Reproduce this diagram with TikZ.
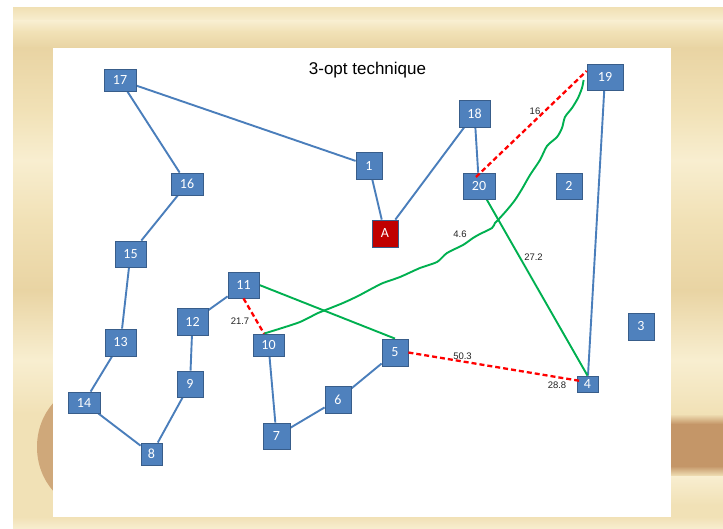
\documentclass[tikz,border=0pt]{standalone}
\usepackage{fontspec}
\setmainfont{Liberation Sans}
\newfontfamily\boxfont{Carlito}
\usetikzlibrary{calc}

\definecolor{boxblue}{RGB}{79,129,189}
\definecolor{boxedge}{RGB}{56,93,138}
\definecolor{edgeblue}{RGB}{74,126,187}
\definecolor{tourgreen}{RGB}{0,176,80}
\definecolor{cutred}{RGB}{255,0,0}
\definecolor{depot}{RGB}{192,0,0}
\definecolor{woodbase}{RGB}{241,225,182}
\definecolor{woodlight}{RGB}{248,238,208}
\definecolor{wooddark}{RGB}{233,212,163}
\definecolor{knot}{RGB}{207,168,122}
\definecolor{knotdark}{RGB}{196,150,104}
\definecolor{labelgray}{RGB}{35,35,35}

\pgfdeclarelayer{frame}
\pgfdeclarelayer{roads}
\pgfsetlayers{frame,roads,main}

\begin{document}
\begin{tikzpicture}[x=1pt,y=-1pt,
  city/.style={draw=boxedge, line width=0.8pt, fill=boxblue, text=white,
    font=\boxfont\fontsize{14}{14}\selectfont, inner sep=0pt},
  box/.style 2 args={city, minimum width=#1, minimum height=#2},
  road/.style={draw=edgeblue, line width=1.9pt},
  newroad/.style={draw=tourgreen, line width=1.9pt, line join=round},
  cutroad/.style={draw=cutred, line width=2.3pt, dash pattern=on 5pt off 3pt},
  dist/.style={font=\fontsize{9.5}{10}\selectfont, text=labelgray, inner sep=0pt}
]
\useasboundingbox (0,0) rectangle (723,529);

% ---------- wooden frame ----------
\begin{pgfonlayer}{frame}
\fill[white] (0,0) rectangle (723,529);
\fill[woodbase] (13,8) rectangle (723,529);
\shade[top color=woodbase, bottom color=woodlight] (13,8) rectangle (723,21);
\shade[top color=woodlight, bottom color=woodbase] (13,21) rectangle (723,32);
\shade[top color=woodbase, bottom color=wooddark] (13,32) rectangle (723,48);
\shade[top color=wooddark, bottom color=woodbase] (13,48) rectangle (723,110);
\shade[top color=woodbase, bottom color=woodlight] (13,110) rectangle (723,160);
\shade[top color=woodlight, bottom color=woodbase] (13,160) rectangle (723,220);
\shade[top color=woodbase, bottom color=wooddark] (13,220) rectangle (723,290);
\shade[top color=wooddark, bottom color=woodlight] (13,290) rectangle (723,360);
\shade[top color=woodlight, bottom color=woodbase] (13,360) rectangle (723,414);
% brown grain band on the right
\shade[top color=woodbase, bottom color=knotdark] (660,414) rectangle (723,424);
\fill[knotdark] (660,424) rectangle (723,466);
\shade[top color=knotdark, bottom color=woodbase] (660,466) rectangle (723,476);
\shade[top color=woodlight, bottom color=woodbase] (660,476) rectangle (723,505);
% knot on the left
\fill[knot] (92,447) ellipse [x radius=55, y radius=62];
\shade[top color=woodbase, bottom color=woodlight] (13,517) rectangle (723,529);
% slide
\fill[white] (53,48) rectangle (671,517);
\end{pgfonlayer}

\node[font=\fontsize{17}{17}\selectfont, anchor=base] (title) at (367.5,75) {3-opt technique};

% ---------- cities ----------
\node[box={32pt}{22pt}] (n17) at (120,80) {17};
\node[box={32pt}{22pt}] (n16) at (187,184) {16};
\node[box={31pt}{26pt}] (n15) at (130.5,254) {15};
\node[box={31pt}{27pt}] (n13) at (120.5,342.5) {13};
\node[box={32pt}{21pt}] (n14) at (84,402.5) {14};
\node[box={21pt}{22pt}] (n8) at (151.5,454) {8};
\node[box={31pt}{27pt}] (n12) at (192.5,321.5) {12};
\node[box={26pt}{26pt}] (n9) at (190,384) {9};
\node[box={31pt}{26pt}] (n11) at (243.5,285) {11};
\node[box={31pt}{22pt}] (n10) at (268.5,345) {10};
\node[box={27pt}{26pt}] (n7) at (276.5,436) {7};
\node[box={26pt}{27pt}] (n6) at (338,399.5) {6};
\node[box={26pt}{27pt}] (n5) at (395,352.5) {5};
\node[box={26pt}{27pt}] (n1) at (369,165.5) {1};
\node[box={26pt}{27pt}, fill=depot] (nA) at (385,233.5) {A};
\node[box={31pt}{27pt}] (n18) at (474.5,113.5) {18};
\node[box={32pt}{26pt}] (n20) at (479,186) {20};
\node[box={36pt}{26pt}] (n19) at (605,77) {19};
\node[box={26pt}{26pt}] (n2) at (569,186) {2};
\node[box={26pt}{27pt}] (n3) at (641,326.5) {3};
\node[box={21pt}{16pt}] (n4) at (587.5,384) {4};

\begin{pgfonlayer}{roads}
% ---------- kept tour edges ----------
\draw[road] (n17) -- (n16);
\draw[road] (n17) -- (n1);
\draw[road] (n16) -- (n15);
\draw[road] (n15) -- (n13);
\draw[road] (n13) -- (n14);
\draw[road] (n14) -- (n8);
\draw[road] (n8) -- (n9);
\draw[road] (n9) -- (n12);
\draw[road] (n12) -- (n11);
\draw[road] (n10) -- (n7);
\draw[road] (n7) -- (n6);
\draw[road] (n6) -- (n5);
\draw[road] (n1) -- (nA);
\draw[road] (nA) -- (n18);
\draw[road] (n18) -- (n20);
\draw[road] (n19) -- (n4);

% ---------- reconnecting edges ----------
\coordinate (e10) at ($(n10.north)+(-4.5,0)$);
\coordinate (e19) at ($(n19.west)+(-3,3)$);
\draw[newroad] (n11.east) -- (n5.north);
\draw[newroad] (n20) -- (n4.north);
\draw[newroad] plot[smooth, tension=0.45] coordinates {
  (e10) (282,328) (300,322) (318,313) (323,311) (343,303) (358,296)
  (373,288) (383,283) (400,277) (420,268) (437,262) (447,253) (463,245)
  (473,238) (480,234) (492,228) (495,223) (498,220) (507,210) (515,200)
  (522,189) (530,175) (540,160) (547,146) (557,137) (562,128) (565,117)
  (572,108) (578,98) (582,88) (e19)};
\end{pgfonlayer}

% ---------- removed edges ----------
\coordinate (r20) at ($(n20.center)+(-3,-9)$);
\coordinate (r19) at ($(n19.west)+(0,-6)$);
\coordinate (r4) at ($(n4.west)+(4,-3)$);
\draw[cutroad] (n11.south) -- (e10);
\draw[cutroad] (r20) -- (r19);
\draw[cutroad] (n5.east) -- (r4);

% ---------- distances ----------
\node[dist] (d16) at (535,111) {16};
\node[dist] (d217) at (240,321.5) {21.7};
\node[dist] (d46) at (460,234) {4.6};
\node[dist] (d272) at (533.5,257) {27.2};
\node[dist] (d503) at (462.5,356.5) {50.3};
\node[dist] (d288) at (557,385.5) {28.8};
\end{tikzpicture}
\end{document}
